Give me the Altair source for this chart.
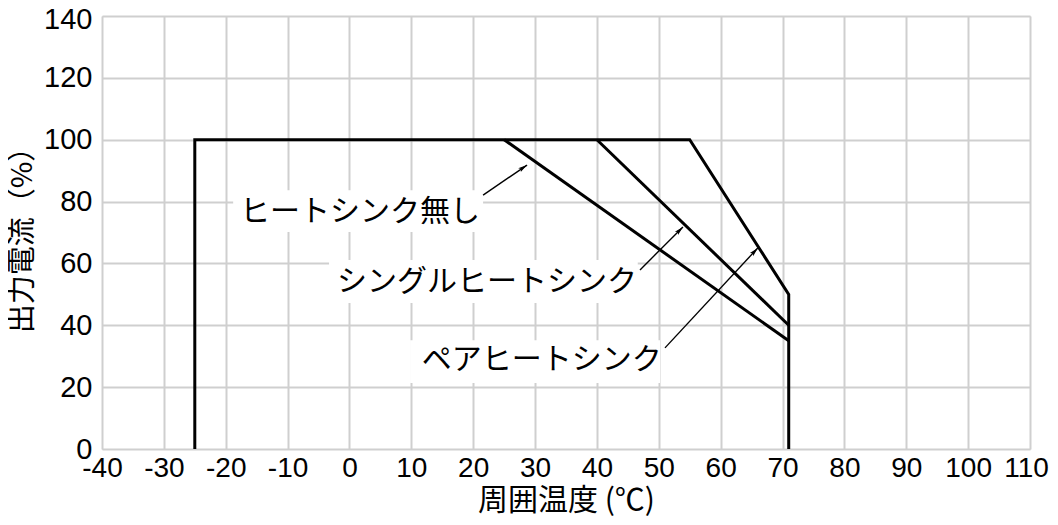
import math
import altair as alt
import pandas as pd

# ---- data ----
pair_x = [-25, -25, 55, 71, 71]
pair_y = [0, 100, 100, 50, 0]
single_x = [40, 71]
single_y = [100, 40]
none_x = [25, 71]
none_y = [100, 35]

label_text = ["ヒートシンク無し", "シングルヒートシンク", "ペアヒートシンク"]
label_x = [-17.7, -2.0, 11.7]
label_y = [76.6, 54.0, 28.8]

box_x1 = [-18.8, -3.3, 9.8]
box_x2 = [21.6, 46.6, 50.2]
box_y1 = [70.2, 47.2, 21.3]
box_y2 = [83.7, 61.1, 35.2]

arrow_tail_x = [21.6, 46.96, 51.0]
arrow_tail_y = [82.1, 57.9, 32.7]
arrow_head_x = [28.7, 53.9, 66.0]
arrow_head_y = [91.8, 71.8, 65.0]

x_ticks = list(range(-40, 111, 10))
y_ticks = list(range(0, 141, 20))

W, H = 928, 433
XMIN, XMAX, YMIN, YMAX = -40, 110, 0, 140

rows = []
for name, xs, ys in [("pair", pair_x, pair_y), ("single", single_x, single_y), ("none", none_x, none_y)]:
    for i, (a, b) in enumerate(zip(xs, ys)):
        rows.append({"series": name, "order": i, "x": a, "y": b})
lines_df = pd.DataFrame(rows)

boxes_df = pd.DataFrame({"x1": box_x1, "x2": box_x2, "y1": box_y1, "y2": box_y2})
labels_df = pd.DataFrame({"t": label_text, "x": label_x, "y": label_y})

px_x = W / (XMAX - XMIN)
px_y = H / (YMAX - YMIN)
angles = []
for tx, ty, hx, hy in zip(arrow_tail_x, arrow_tail_y, arrow_head_x, arrow_head_y):
    dx = (hx - tx) * px_x
    dy = (hy - ty) * px_y
    angles.append(math.degrees(math.atan2(dx, dy)))
arrows_df = pd.DataFrame({"tx": arrow_tail_x, "ty": arrow_tail_y,
                          "hx": arrow_head_x, "hy": arrow_head_y, "ang": angles})

xscale = alt.Scale(domain=[XMIN, XMAX], nice=False, zero=False)
yscale = alt.Scale(domain=[YMIN, YMAX], nice=False, zero=False)

xaxis = alt.Axis(values=x_ticks, title="周囲温度 (℃)", grid=True, ticks=False, tickSize=0,
                 domain=False, labelFont="Liberation Sans", labelFontSize=28, labelColor="black",
                 labelPadding=5, labelOverlap=False, labelFlush=False,
                 labelExpr="toString(datum.value)",
                 labelOffset={"condition": {"test": "datum.value == 110", "value": -4}, "value": 0},
                 titleFont="Noto Sans CJK JP", titleFontSize=30, titleFontWeight="normal",
                 titleColor="black", titlePadding=3,
                 gridColor="#cfcfcf", gridWidth=2)
yaxis = alt.Axis(values=y_ticks, title="出力電流（%）", grid=True, ticks=False, tickSize=0,
                 domain=False, labelFont="Liberation Sans", labelFontSize=29, labelColor="black",
                 labelPadding=10, labelOverlap=False, labelFlush=False,
                 labelExpr="toString(datum.value)",
                 labelOffset={"condition": {"test": "datum.value == 140", "value": 3}, "value": 0},
                 titleFont="Noto Sans CJK JP", titleFontSize=29, titleFontWeight="normal",
                 titleColor="black", titlePadding=6,
                 gridColor="#cfcfcf", gridWidth=2)

boxes = alt.Chart(boxes_df).mark_rect(color="white").encode(
    x=alt.X("x1:Q", scale=xscale, axis=xaxis),
    x2="x2:Q",
    y=alt.Y("y1:Q", scale=yscale, axis=yaxis),
    y2="y2:Q",
)

lines = alt.Chart(lines_df).mark_line(color="black", strokeWidth=3, strokeJoin="miter", strokeCap="butt").encode(
    x=alt.X("x:Q", scale=xscale),
    y=alt.Y("y:Q", scale=yscale),
    detail="series:N",
    order="order:Q",
)

texts = alt.Chart(labels_df).mark_text(align="left", baseline="middle", font="Noto Sans CJK JP",
                                       fontSize=30, color="black").encode(
    x=alt.X("x:Q", scale=xscale),
    y=alt.Y("y:Q", scale=yscale),
    text="t:N",
)

arrow_lines = alt.Chart(arrows_df).mark_rule(color="black", strokeWidth=1.4).encode(
    x=alt.X("tx:Q", scale=xscale),
    y=alt.Y("ty:Q", scale=yscale),
    x2="hx:Q",
    y2="hy:Q",
)

arrow_heads = alt.Chart(arrows_df).mark_point(
    shape="M0,0L0.4,1.6L0,1.25L-0.4,1.6Z", filled=True, color="black", opacity=1, size=130
).encode(
    x=alt.X("hx:Q", scale=xscale),
    y=alt.Y("hy:Q", scale=yscale),
    angle=alt.Angle("ang:Q", scale=None),
)

chart = alt.layer(boxes, lines, texts, arrow_lines, arrow_heads).properties(
    width=W, height=H,
    autosize=alt.AutoSizeParams(type="none"),
    padding={"left": 94, "top": 8, "right": 20, "bottom": 68},
).configure_view(stroke="black", strokeWidth=2.5).configure(background="white")

chart.save("out.html", embed_options={"renderer": "svg", "actions": False})
